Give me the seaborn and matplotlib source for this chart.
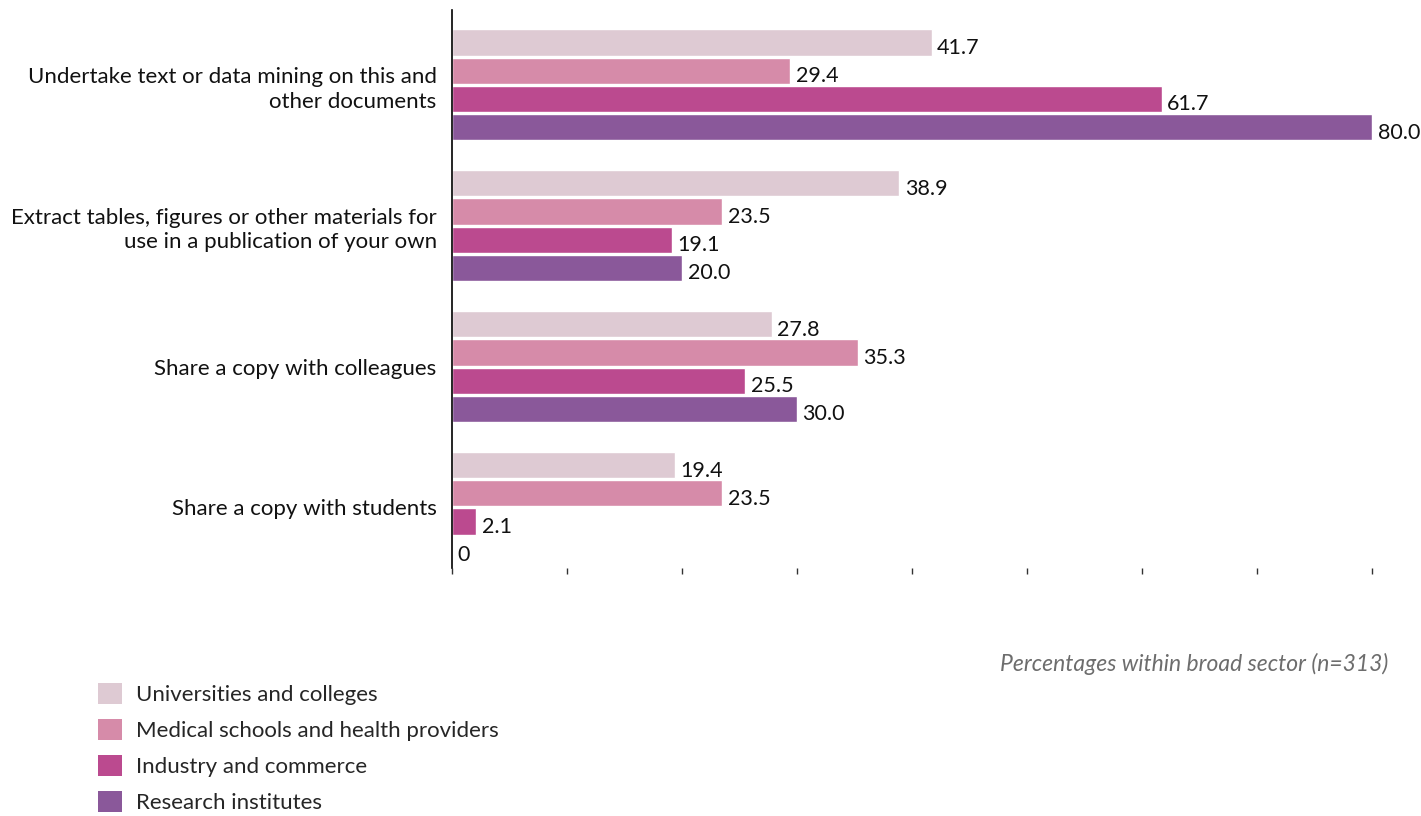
import matplotlib
matplotlib.use("Agg")
import matplotlib.pyplot as plt
import seaborn as sns
import pandas as pd
from matplotlib.patches import Patch

# Survey responses: share of respondents (%) per broad sector
categories = [
    "Undertake text or data mining on this and\nother documents",
    "Extract tables, figures or other materials for\nuse in a publication of your own",
    "Share a copy with colleagues",
    "Share a copy with students",
]
sectors = [
    "Universities and colleges",
    "Medical schools and health providers",
    "Industry and commerce",
    "Research institutes",
]
universities = [41.7, 38.9, 27.8, 19.4]
medical = [29.4, 23.5, 35.3, 23.5]
industry = [61.7, 19.1, 25.5, 2.1]
research = [80.0, 20.0, 30.0, 0.0]
colors = ["#DECAD3", "#D68BA9", "#BB4A8F", "#8A589A"]
footnote = "Percentages within broad sector (n=313)"

series = [universities, medical, industry, research]
rows = []
for sector, values in zip(sectors, series):
    for cat, v in zip(categories, values):
        rows.append({"Activity": cat, "Sector": sector, "Percent": v})
df = pd.DataFrame(rows)

sns.set_theme(style="white")
plt.rcParams["font.family"] = ["Lato", "DejaVu Sans"]

fig = plt.figure(figsize=(14.21, 8.16), dpi=100)
ax = fig.add_axes([0.3181, 0.3039, 0.6474, 0.6838])

sns.barplot(
    data=df, y="Activity", x="Percent", hue="Sector",
    order=categories, hue_order=sectors, palette=colors,
    orient="h", width=0.8, gap=0.07, saturation=1, ax=ax, legend=False,
)

ax.set_xlim(0, 80)
ax.set_ylim(3.43, -0.53)
ax.set_xticks(range(0, 81, 10))
ax.set_xticklabels([])
ax.set_xlabel("")
ax.set_ylabel("")
ax.tick_params(axis="x", bottom=True, length=4, width=1, color="#333333", direction="out", pad=0)
ax.tick_params(axis="y", left=False, labelsize=16, pad=5, labelcolor="#111111")
for lbl in ax.get_yticklabels():
    lbl.set_linespacing(1.3)

for side in ["top", "right", "bottom"]:
    ax.spines[side].set_visible(False)
ax.spines["left"].set_color("black")
ax.spines["left"].set_linewidth(1.2)

# value labels next to each bar
for container in ax.containers:
    for bar in container:
        w = bar.get_width()
        yc = bar.get_y() + bar.get_height() / 2
        txt = "0" if w == 0 else f"{w:.1f}"
        ax.annotate(txt, xy=(w, yc), xytext=(4, -4), textcoords="offset points",
                    ha="left", va="center", fontsize=15.5, color="#111111",
                    annotation_clip=False)

fig.text(0.977, 0.186, footnote, ha="right", va="center", fontsize=16.5,
         style="italic", color="#6D6D6D")

handles = [Patch(facecolor=c, edgecolor="none") for c in colors]
fig.legend(handles, sectors, loc="upper left", bbox_to_anchor=(0.063, 0.174),
           frameon=False, fontsize=16, handlelength=1.05, handleheight=1.05,
           handletextpad=0.65, labelspacing=0.64, borderaxespad=0)

fig.savefig("out.png", dpi=100, facecolor="white")
